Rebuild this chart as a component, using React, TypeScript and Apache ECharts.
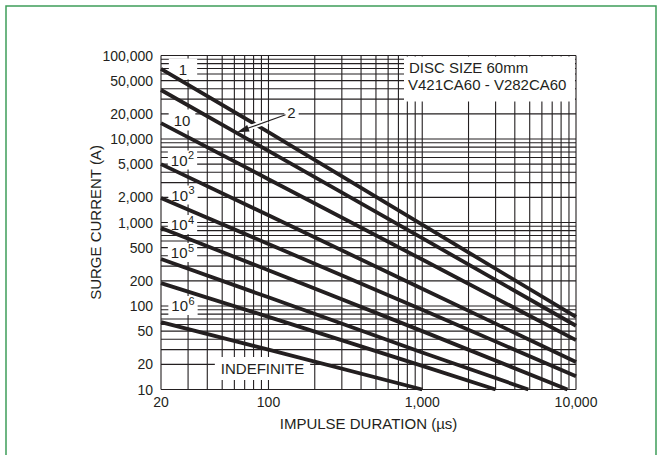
import React, { useEffect, useRef } from "react";
import * as echarts from "echarts";

// ---- axis ranges & ticks ----
const X_RANGE = [20, 10000];
const Y_RANGE = [10, 100000];
const X_TICK_LABELS = [20, 100, 1000, 10000];
const Y_TICK_LABELS = [10, 20, 50, 100, 200, 500, 1000, 2000, 5000, 10000, 20000, 50000, 100000];
const X_GRID = [
  20, 30, 40, 50, 60, 70, 80, 90,
  100, 200, 300, 400, 500, 600, 700, 800, 900,
  1000, 2000, 3000, 4000, 5000, 6000, 7000, 8000, 9000,
  10000,
];
const Y_GRID = [
  10, 20, 30, 40, 50, 60, 70, 80, 90,
  100, 200, 300, 400, 500, 600, 700, 800, 900,
  1000, 2000, 3000, 4000, 5000, 6000, 7000, 8000, 9000,
  10000, 20000, 30000, 40000, 50000, 60000, 70000, 80000, 90000,
  100000,
];

// ---- curves: [impulse duration (µs), surge current (A)] ----
const CURVE_1 = [[20, 69000], [100, 12100], [1000, 940], [10000, 74]];
const CURVE_2 = [[20, 38600], [100, 7200], [1000, 650], [10000, 58]];
const CURVE_10 = [[20, 15500], [100, 3300], [1000, 360], [10000, 39]];
const CURVE_1E2 = [[20, 5000], [100, 1220], [1000, 161], [10000, 21.4]];
const CURVE_1E3 = [[20, 1960], [100, 553], [1000, 90], [10000, 14.4]];
const CURVE_1E4 = [[20, 860], [100, 268], [1000, 50], [8800, 10]];
const CURVE_1E5 = [[20, 366], [100, 127], [1000, 27.7], [4900, 10]];
const CURVE_1E6 = [[20, 188], [100, 74], [1000, 19.2], [3000, 10]];
const CURVE_INDEF = [[20, 64], [100, 30], [1000, 10]];

const CURVES: [string, number[][]][] = [
  ["1", CURVE_1],
  ["2", CURVE_2],
  ["10", CURVE_10],
  ["10^2", CURVE_1E2],
  ["10^3", CURVE_1E3],
  ["10^4", CURVE_1E4],
  ["10^5", CURVE_1E5],
  ["10^6", CURVE_1E6],
  ["INDEFINITE", CURVE_INDEF],
];

const INK = "#231f20";
const FONT = "'Liberation Sans', Arial, Helvetica, sans-serif";

const fmt = (v: number) =>
  String(Math.round(v)).replace(/\B(?=(\d{3})+(?!\d))/g, ",");

function supLabel(exp: string, x: number, y: number) {
  return {
    type: "text",
    x,
    y,
    z: 1,
    silent: true,
    style: {
      text: `{b|10}{s|${exp}}`,
      align: "center",
      verticalAlign: "middle",
      backgroundColor: "#ffffff",
      padding: [2, 3],
      rich: {
        b: { fontSize: 15, lineHeight: 15, fontFamily: FONT, fill: INK, verticalAlign: "bottom" },
        s: { fontSize: 11, lineHeight: 11, fontFamily: FONT, fill: INK, verticalAlign: "bottom", padding: [0, 0, 7, 0.5] },
      },
    },
  };
}

function plainLabel(text: string, x: number, y: number, padding: number[], size = 15) {
  return {
    type: "text",
    x,
    y,
    z: 1,
    silent: true,
    style: {
      text,
      fontSize: size,
      fontFamily: FONT,
      fill: INK,
      align: "center",
      verticalAlign: "middle",
      backgroundColor: "#ffffff",
      padding,
    },
  };
}

export default function App() {
  const ref = useRef<HTMLDivElement>(null);

  useEffect(() => {
    document.body.style.margin = "0";
    if (!ref.current) return;
    const chart = echarts.init(ref.current, null, { renderer: "svg" });

    const gridLine = (vertical: boolean) => ({
      type: "custom",
      z: 0,
      silent: true,
      clip: false,
      data: vertical ? X_GRID.map((v) => [v, Y_RANGE[0]]) : Y_GRID.map((v) => [X_RANGE[0], v]),
      renderItem: (_p: any, api: any) => {
        const v = api.value(vertical ? 0 : 1);
        const a = vertical ? api.coord([v, Y_RANGE[0]]) : api.coord([X_RANGE[0], v]);
        const b = vertical ? api.coord([v, Y_RANGE[1]]) : api.coord([X_RANGE[1], v]);
        return {
          type: "line",
          shape: { x1: a[0], y1: a[1], x2: b[0], y2: b[1] },
          style: { stroke: INK, lineWidth: 1.1 },
        };
      },
    });

    const axisCommon = {
      type: "log",
      logBase: 10,
      nameLocation: "middle",
      nameMoveOverlap: false,
      nameTextStyle: { fontSize: 15, fontFamily: FONT, color: INK },
      axisLine: { show: false },
      axisTick: { show: false },
      splitLine: { show: false },
    };

    const option: any = {
      animation: false,
      backgroundColor: "#ffffff",
      grid: { left: 161, right: 86, top: 55.5, bottom: 65.5, containLabel: false, outerBoundsMode: "none" },
      xAxis: {
        ...axisCommon,
        min: X_RANGE[0],
        max: X_RANGE[1],
        name: "IMPULSE DURATION (µs)",
        nameGap: 26,
        axisLabel: {
          customValues: X_TICK_LABELS,
          formatter: (v: number) => fmt(v),
          margin: 5,
          fontSize: 14,
          fontFamily: FONT,
          color: INK,
        },
      },
      yAxis: {
        ...axisCommon,
        min: Y_RANGE[0],
        max: Y_RANGE[1],
        name: "SURGE CURRENT (A)",
        nameGap: 58,
        axisLabel: {
          customValues: Y_TICK_LABELS,
          formatter: (v: number) => fmt(v),
          margin: 8,
          fontSize: 14,
          fontFamily: FONT,
          color: INK,
        },
      },
      series: [
        gridLine(true),
        gridLine(false),
        ...CURVES.map(([name, data]) => ({
          type: "line",
          name,
          data,
          z: 2,
          showSymbol: false,
          symbol: "none",
          silent: true,
          lineStyle: { color: INK, width: 3.8, cap: "butt" },
        })),
      ],
      graphic: [
        {
          type: "rect",
          z: 0,
          silent: true,
          shape: { x: 6, y: 6, width: 650, height: 480 },
          style: { fill: "none", stroke: "#3e9d5a", lineWidth: 1.5 },
        },
        plainLabel("1", 183, 69, [3, 10]),
        plainLabel("10", 182, 120, [3, 5]),
        supLabel("2", 182.5, 160),
        supLabel("3", 183, 195),
        supLabel("4", 182.5, 224.5),
        supLabel("5", 182.5, 252.5),
        supLabel("6", 183, 305.5),
        {
          type: "rect",
          z: 1,
          silent: true,
          shape: { x: 404, y: 56.5, width: 171, height: 45 },
          style: { fill: "#ffffff" },
        },
        {
          type: "text",
          z: 1,
          silent: true,
          x: 409,
          y: 67.5,
          style: { text: "DISC SIZE 60mm", fontSize: 15, fontFamily: FONT, fill: INK, align: "left", verticalAlign: "middle" },
        },
        {
          type: "text",
          z: 1,
          silent: true,
          x: 408,
          y: 84.5,
          style: { text: "V421CA60 - V282CA60", fontSize: 15, fontFamily: FONT, fill: INK, align: "left", verticalAlign: "middle" },
        },
        plainLabel("INDEFINITE", 262.5, 368.5, [4, 6]),
        plainLabel("2", 291.5, 112.5, [1, 3]),
        {
          type: "line",
          z: 5,
          silent: true,
          shape: { x1: 245, y1: 129.3, x2: 268, y2: 121.1 },
          style: { stroke: "#ffffff", lineWidth: 5 },
        },
        {
          type: "line",
          z: 6,
          silent: true,
          shape: { x1: 285.5, y1: 114.8, x2: 247, y2: 128.6 },
          style: { stroke: INK, lineWidth: 1.1 },
        },
        {
          type: "polygon",
          z: 6,
          silent: true,
          shape: { points: [[237, 132.3], [249.6, 131.4], [247.2, 124.9]] },
          style: { fill: INK },
        },
      ],
    };

    chart.setOption(option);
    return () => chart.dispose();
  }, []);

  return <div ref={ref} style={{ width: 662, height: 455 }} />;
}
